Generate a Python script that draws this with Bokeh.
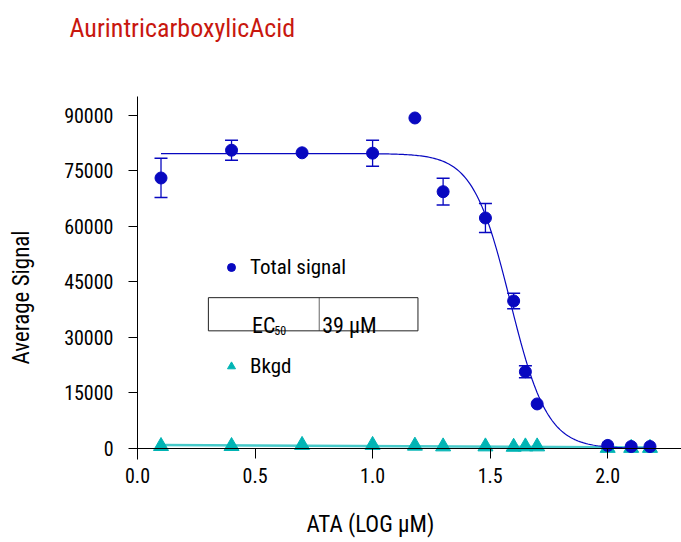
import numpy as np
from bokeh.plotting import figure
from bokeh.models import (Range1d, ColumnDataSource, Whisker, TeeHead, Legend, LegendItem,
                          BoxAnnotation, Label, FixedTicker, NumeralTickFormatter, LinearAxis, Title)
from bokeh.embed import file_html
from bokeh.resources import INLINE

# ---------------- data ----------------
log_conc = [0.10, 0.40, 0.70, 1.00, 1.18, 1.30, 1.48, 1.60, 1.65, 1.70, 2.00, 2.10, 2.18]
total_signal = [73000, 80500, 79800, 79700, 89200, 69300, 62200, 39800, 20700, 12000, 800, 500, 500]
total_err = [5300, 2700, 0, 3500, 0, 3600, 3900, 2100, 1600, 0, 0, 0, 0]
bkgd_signal = [600, 600, 900, 900, 700, 500, 500, 400, 500, 500, 100, 100, 100]

# fitted 4-parameter logistic for total signal
fit_top = 79600
fit_bottom = 0
fit_log_ec50 = 1.585
fit_hill = 5.5

x_ticks = [0.0, 0.5, 1.0, 1.5, 2.0]
y_ticks = [0, 15000, 30000, 45000, 60000, 75000, 90000]

title_text = "AurintricarboxylicAcid"
x_title = "ATA (LOG \u00b5M)"
y_title = "Average Signal"
ec50_label = "39 \u00b5M"

FONT = "Roboto Condensed"
BLUE = "#0808C0"
TEAL = "#00B4B4"
TEAL_LINE = "#48CACA"

p = figure(width=681, height=542, output_backend="svg", toolbar_location=None,
           x_range=Range1d(0, 2.314), y_range=Range1d(-3000, 95000),
           min_border_left=136, min_border_right=0, min_border_top=0, min_border_bottom=83)
p.title = None
p.outline_line_color = None
p.xgrid.visible = False
p.ygrid.visible = False

# background fit line (linear regression)
b_coef = np.polyfit(log_conc, bkgd_signal, 1)
xb = np.array([min(log_conc), max(log_conc)])
p.line(xb, np.polyval(b_coef, xb), line_color=TEAL_LINE, line_width=2.5)

# logistic fit
xf = np.linspace(min(log_conc), max(log_conc), 300)
yf = fit_bottom + (fit_top - fit_bottom) / (1 + 10 ** (fit_hill * (xf - fit_log_ec50)))
p.line(xf, yf, line_color=BLUE, line_width=1.2)

idx = [i for i, e in enumerate(total_err) if e > 0]
err_src = ColumnDataSource(dict(
    x=[log_conc[i] for i in idx],
    upper=[total_signal[i] + total_err[i] for i in idx],
    lower=[total_signal[i] - total_err[i] for i in idx]))
whisk = Whisker(source=err_src, base="x", upper="upper", lower="lower",
                line_color=BLUE, line_width=1.3,
                upper_head=TeeHead(size=13, line_color=BLUE, line_width=1.5),
                lower_head=TeeHead(size=13, line_color=BLUE, line_width=1.5))
p.add_layout(whisk)

src = ColumnDataSource(dict(x=log_conc, total=total_signal, bkgd=bkgd_signal))
r_bkgd = p.scatter("x", "bkgd", source=src, marker="triangle", size=15,
                   fill_color=TEAL, line_color=TEAL)
r_total = p.scatter("x", "total", source=src, marker="circle", size=12,
                    fill_color=BLUE, line_color=BLUE)

def style(ax):
    ax.axis_line_color = "black"
    ax.major_tick_line_color = "black"
    ax.minor_tick_line_color = None
    ax.major_tick_in = 0
    ax.major_label_text_font = FONT
    ax.major_label_text_font_size = "20px"
    ax.major_label_text_color = "black"
    ax.axis_label_text_font_size = "10px"
    ax.axis_label_text_color = "white"

# bottom axis: tick labels only (blank axis label used as spacing)
xa = p.xaxis[0]
style(xa)
xa.axis_line_color = None
xa.major_tick_line_color = None
xa.major_tick_out = 0
xa.ticker = FixedTicker(ticks=x_ticks)
xa.formatter = NumeralTickFormatter(format="0.0")
xa.major_label_standoff = 8
xa.axis_label = " "
xa.axis_label_standoff = 4

# axis line at y = 0 with downward ticks
x0 = LinearAxis(fixed_location=0, ticker=FixedTicker(ticks=x_ticks),
                major_label_text_font_size="0px", major_label_text_alpha=0,
                axis_line_color="black", major_tick_line_color="black",
                minor_tick_line_color=None, major_tick_in=10, major_tick_out=0)
p.add_layout(x0, "above")

ya = p.yaxis[0]
style(ya)
ya.ticker = FixedTicker(ticks=y_ticks)
ya.formatter = NumeralTickFormatter(format="0")
ya.major_tick_out = 9
ya.major_label_standoff = 15
ya.axis_label = " "
ya.axis_label_standoff = 8

# chart title (spacer + title in the top panel)
p.add_layout(Title(text=" ", text_font_size="10px", standoff=31, text_color="white"), "above")
p.add_layout(Title(text=title_text, align="left", offset=-68, standoff=20,
                   text_font=FONT, text_font_size="26px", text_font_style="normal",
                   text_color="#C8170E"), "above")

# axis titles
p.add_layout(Title(text=x_title, align="left", offset=169, standoff=10,
                   text_font=FONT, text_font_size="23px", text_font_style="normal",
                   text_color="black"), "below")
p.add_layout(Title(text=y_title, align="left", offset=95, standoff=10,
                   text_font=FONT, text_font_size="23px", text_font_style="normal",
                   text_color="black"), "left")

legend = Legend(items=[LegendItem(label="Total signal", renderers=[r_total]),
                       LegendItem(label="Bkgd", renderers=[r_bkgd])],
                location=(84, 81), orientation="vertical",
                padding=0, margin=0, spacing=75,
                glyph_width=20, glyph_height=24, label_height=24, label_standoff=9,
                border_line_color=None, background_fill_alpha=0,
                label_text_font=FONT, label_text_font_size="21px", label_text_color="black")
p.add_layout(legend, "center")

# EC50 table
p.add_layout(BoxAnnotation(left=0.3015, right=1.193, bottom=31735, top=40690,
                           fill_color=None, fill_alpha=0,
                           line_color="#222222", line_alpha=1, line_width=1))
p.segment(x0=[0.773], y0=[31735], x1=[0.773], y1=[40690], line_color="#666666", line_width=1)
p.add_layout(Label(x=0.487, y=33090, text="EC", text_font=FONT, text_font_size="22px",
                   text_color="black", text_baseline="alphabetic"))
p.add_layout(Label(x=0.5815, y=31900, text="50", text_font=FONT, text_font_size="12px",
                   text_color="black", text_baseline="alphabetic"))
p.add_layout(Label(x=0.7856, y=33090, text=ec50_label, text_font=FONT, text_font_size="22px",
                   text_color="black", text_baseline="alphabetic"))

open("out.html", "w").write(file_html(p, INLINE))
